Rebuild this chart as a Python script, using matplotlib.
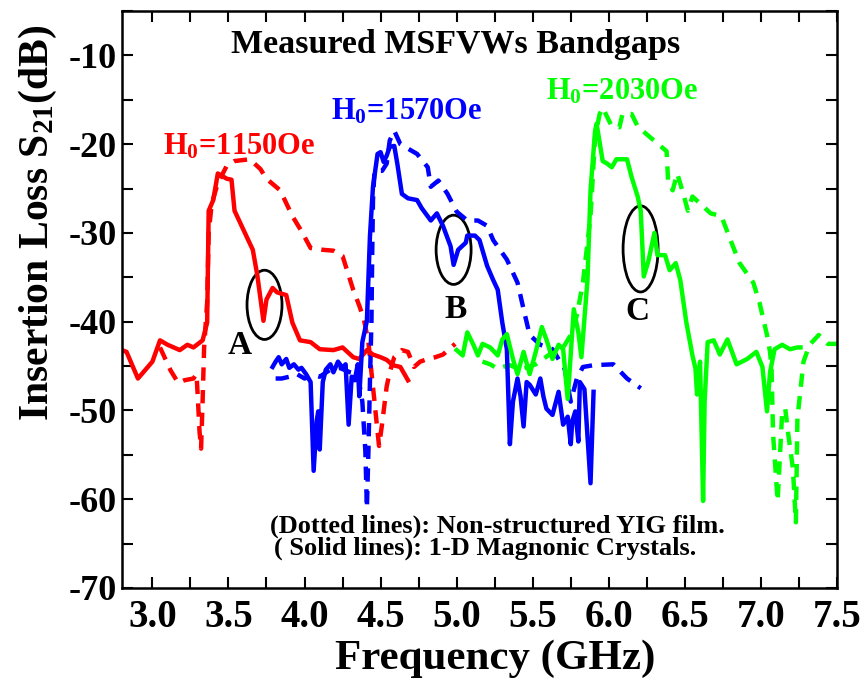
import numpy as np
import matplotlib
matplotlib.use("Agg")
import matplotlib.pyplot as plt
from matplotlib.patches import Ellipse
from matplotlib.ticker import MultipleLocator

plt.rcParams['font.family'] = ['Liberation Serif', 'DejaVu Serif']
plt.rcParams['font.weight'] = 'bold'
plt.rcParams['axes.labelweight'] = 'bold'
plt.rcParams['axes.unicode_minus'] = False
plt.rcParams['mathtext.fontset'] = 'custom'
plt.rcParams['mathtext.rm'] = 'Liberation Serif:bold'
plt.rcParams['mathtext.it'] = 'Liberation Serif:bold'
plt.rcParams['mathtext.bf'] = 'Liberation Serif:bold'

# H0 = 1150 Oe (red)
red_solid_f = [2.80, 2.83, 2.905, 3.00, 3.05, 3.10, 3.18, 3.23, 3.27, 3.33, 3.36, 3.37, 3.40, 3.43,
               3.49, 3.52, 3.54, 3.60, 3.66, 3.69, 3.73, 3.75, 3.79, 3.82, 3.88, 3.92, 3.97, 4.04,
               4.10, 4.19, 4.25, 4.32, 4.36, 4.41, 4.45, 4.50, 4.54, 4.58, 4.63, 4.68]
red_solid_s = [-43.2, -43.4, -46.4, -44.5, -42.1, -42.6, -43.2, -42.6, -42.9, -42.1, -40.1, -27.5, -26.3, -23.3,
               -23.9, -24.0, -27.5, -29.7, -31.9, -34.8, -39.9, -37.5, -36.2, -36.7, -37.0, -40.1, -42.1, -42.3,
               -43.1, -43.2, -42.9, -44.0, -44.2, -43.2, -43.7, -44.0, -44.3, -44.9, -45.1, -46.6]
red_dash_f = [3.05, 3.12, 3.17, 3.21, 3.27, 3.29, 3.30, 3.31, 3.32, 3.33, 3.34, 3.36, 3.37, 3.39, 3.43,
              3.49, 3.54, 3.64, 3.71, 3.75, 3.84, 3.92, 3.98, 4.04, 4.12, 4.19, 4.25, 4.32, 4.36, 4.39,
              4.42, 4.44, 4.46, 4.48, 4.49, 4.51, 4.54, 4.56, 4.59, 4.64, 4.68, 4.72, 4.76, 4.81, 4.86,
              4.91, 4.99]
red_dash_s = [-42.9, -45.5, -46.9, -46.6, -46.4, -45.9, -49.0, -52.4, -54.3, -49.0, -42.9, -37.8, -30.0, -26.7, -24.4,
              -22.4, -21.9, -21.7, -22.8, -23.9, -25.2, -28.1, -29.8, -31.7, -31.9, -32.0, -32.6, -36.4, -38.2, -39.7,
              -42.3, -45.7, -49.0, -52.4, -54.0, -51.5, -47.3, -45.7, -44.0, -43.2, -43.4, -45.1, -44.5, -44.2, -44.0,
              -43.7, -42.5]

# H0 = 1570 Oe (blue)
blue_solid_f = [3.79, 3.81, 3.83, 3.85, 3.88, 3.90, 3.93, 3.96, 3.98, 4.01, 4.04, 4.06, 4.08, 4.09, 4.10,
                4.12, 4.14, 4.17, 4.19, 4.22, 4.25, 4.27, 4.29, 4.31, 4.33, 4.35, 4.36, 4.38, 4.41, 4.43,
                4.45, 4.48, 4.50, 4.52, 4.54, 4.56, 4.59, 4.61, 4.64, 4.68, 4.74, 4.77, 4.83, 4.87, 4.91,
                4.96, 4.98, 5.01, 5.06, 5.07, 5.12, 5.15, 5.20, 5.24, 5.27, 5.30, 5.33, 5.35, 5.37, 5.40,
                5.42, 5.44, 5.46, 5.48, 5.52, 5.55, 5.57, 5.59, 5.63, 5.67, 5.70, 5.73, 5.75, 5.76, 5.78,
                5.80, 5.81, 5.84, 5.88, 5.90]
blue_solid_s = [-45.1, -44.5, -44.0, -44.8, -44.2, -45.2, -44.8, -45.4, -45.2, -45.9, -46.8, -56.8, -51.2, -50.1, -54.4,
                -46.8, -45.4, -44.8, -45.7, -44.5, -45.2, -44.8, -51.6, -46.2, -46.6, -44.8, -48.4, -42.3, -39.9, -30.4,
                -24.8, -21.1, -20.9, -22.0, -21.3, -20.3, -20.2, -22.2, -25.6, -26.1, -26.3, -27.2, -28.6, -27.8, -29.2,
                -31.5, -33.6, -31.9, -31.1, -30.3, -30.3, -30.8, -33.7, -35.3, -36.4, -40.1, -43.1, -53.8, -49.0, -46.4,
                -48.4, -51.8, -46.8, -47.1, -48.2, -46.4, -48.4, -49.8, -50.5, -47.9, -51.6, -50.7, -53.8, -51.2, -50.1,
                -53.5, -46.8, -47.6, -58.2, -47.9]
blue_dash_f = [3.81, 3.85, 3.90, 3.95, 4.00, 4.06, 4.10, 4.17, 4.23, 4.30, 4.35, 4.38, 4.40, 4.41, 4.42,
               4.43, 4.44, 4.445, 4.45, 4.46, 4.51, 4.54, 4.56, 4.59, 4.63, 4.74, 4.81, 4.83, 4.88, 4.94,
               5.00, 5.07, 5.14, 5.20, 5.24, 5.33, 5.40, 5.44, 5.48, 5.55, 5.63, 5.68, 5.71, 5.75, 5.79,
               5.83, 5.90, 6.03, 6.12, 6.21]
blue_dash_s = [-46.4, -46.4, -46.2, -45.9, -46.4, -46.0, -46.2, -45.4, -45.2, -45.7, -45.9, -49.0, -54.6, -61.0, -54.6,
               -46.8, -39.9, -32.3, -26.3, -23.0, -23.0, -22.2, -19.6, -18.5, -20.0, -21.1, -22.6, -24.8, -24.1, -25.6,
               -27.6, -28.6, -28.6, -29.2, -30.8, -33.0, -35.6, -38.6, -41.5, -42.6, -43.1, -44.5, -45.3, -49.0, -46.4,
               -45.1, -44.9, -44.8, -46.4, -47.5]

# H0 = 2030 Oe (green)
green_solid_f = [5.00, 5.04, 5.07, 5.11, 5.14, 5.17, 5.22, 5.27, 5.30, 5.33, 5.37, 5.40, 5.44, 5.48, 5.52,
                 5.56, 5.59, 5.63, 5.67, 5.70, 5.73, 5.77, 5.80, 5.82, 5.86, 5.88, 5.91, 5.92, 5.96, 5.99,
                 6.02, 6.05, 6.12, 6.15, 6.19, 6.21, 6.23, 6.26, 6.30, 6.32, 6.37, 6.40, 6.44, 6.47, 6.51,
                 6.55, 6.57, 6.58, 6.60, 6.62, 6.63, 6.65, 6.69, 6.73, 6.78, 6.81, 6.84, 6.91, 6.97, 7.01,
                 7.04, 7.06, 7.09, 7.14, 7.19, 7.24, 7.26]
green_solid_s = [-43.2, -43.8, -41.2, -42.6, -43.8, -42.5, -42.9, -43.8, -42.0, -41.4, -44.2, -45.9, -43.4, -45.9, -43.4,
                 -40.6, -42.0, -44.2, -42.6, -43.1, -48.7, -38.6, -41.2, -44.0, -35.3, -25.2, -18.5, -17.7, -21.9, -22.2,
                 -22.6, -21.7, -21.7, -23.7, -25.9, -27.5, -34.9, -33.2, -30.0, -32.5, -32.5, -34.2, -33.4, -35.3, -40.1,
                 -43.8, -45.3, -48.2, -44.5, -60.2, -49.0, -42.3, -42.1, -43.7, -42.0, -43.4, -44.8, -44.2, -43.4, -45.1,
                 -50.1, -45.7, -43.1, -42.6, -43.1, -42.9, -42.9]
green_dash_f = [5.17, 5.22, 5.27, 5.30, 5.35, 5.42, 5.52, 5.61, 5.69, 5.75, 5.79, 5.83, 5.88, 5.91, 5.94,
                5.96, 6.02, 6.07, 6.09, 6.15, 6.19, 6.25, 6.38, 6.39, 6.42, 6.45, 6.49, 6.52, 6.55, 6.62,
                6.67, 6.74, 6.80, 6.86, 6.95, 6.99, 7.04, 7.06, 7.07, 7.08, 7.11, 7.14, 7.16, 7.18, 7.21,
                7.23, 7.24, 7.28, 7.32, 7.38, 7.44, 7.50]
green_dash_s = [-44.5, -44.8, -45.3, -45.1, -44.9, -45.4, -44.8, -43.7, -43.2, -41.5, -39.3, -35.6, -28.1, -19.2, -16.6,
                -15.9, -18.0, -18.1, -16.6, -16.6, -18.0, -18.9, -20.8, -24.1, -25.2, -23.3, -25.6, -27.5, -25.9, -27.0,
                -27.8, -28.1, -30.8, -33.4, -35.6, -37.8, -41.5, -43.4, -45.3, -52.7, -60.2, -50.1, -49.8, -52.7, -56.5,
                -62.6, -50.9, -44.5, -42.6, -41.5, -42.5, -42.5]

# bandgap markers: (label, freq, level, width, height, label_freq, label_level)
gaps = [("A", 3.737, -38.1, 0.23, 7.8, 3.575, -42.7),
        ("B", 4.980, -31.9, 0.23, 7.8, 4.990, -38.6),
        ("C", 6.209, -31.8, 0.23, 9.7, 6.190, -38.9)]

fig = plt.figure(figsize=(8.65, 6.89), dpi=100)
ax = fig.add_axes([0.141, 0.1466, 0.8266, 0.8374])

lw = 3.2
dash = (0, (3.0, 2.1))
ax.plot(red_dash_f, red_dash_s, color='#ff0000', lw=lw, linestyle=dash)
ax.plot(blue_dash_f, blue_dash_s, color='#0000ff', lw=lw, linestyle=dash)
ax.plot(green_dash_f, green_dash_s, color='#00ff00', lw=lw, linestyle=dash)
ax.plot(red_solid_f, red_solid_s, color='#ff0000', lw=lw)
ax.plot(blue_solid_f, blue_solid_s, color='#0000ff', lw=lw)
ax.plot(green_solid_f, green_solid_s, color='#00ff00', lw=lw)

for name, fx, fy, w, h, lx, ly in gaps:
    ax.add_patch(Ellipse((fx, fy), w, h, fill=False, edgecolor='black', lw=2))
    ax.text(lx, ly, name, fontsize=24, ha='center', va='center', color='black')

ax.text(3.57, -20.3, r'H$_0$=1150Oe', fontsize=22, color='#ff0000', ha='center', va='center')
ax.text(4.67, -16.4, r'H$_0$=1570Oe', fontsize=22, color='#0000ff', ha='center', va='center')
ax.text(6.09, -14.1, r'H$_0$=2030Oe', fontsize=22, color='#00ff00', ha='center', va='center')
ax.text(4.99, -8.8, 'Measured MSFVWs Bandgaps', fontsize=24.5, ha='center', va='center')
ax.text(5.27, -63.1, '(Dotted lines): Non-structured YIG film.', fontsize=19, ha='center', va='center')
ax.text(5.19, -65.5, '( Solid lines): 1-D Magnonic Crystals.', fontsize=19, ha='center', va='center')

ax.set_xlim(2.8, 7.5)
ax.set_ylim(-70, -5)
ax.xaxis.set_minor_locator(MultipleLocator(0.25))
ax.yaxis.set_major_locator(MultipleLocator(10))
ax.yaxis.set_minor_locator(MultipleLocator(5))
ax.set_xticks([3.0, 3.5, 4.0, 4.5, 5.0, 5.5, 6.0, 6.5, 7.0, 7.5])
ax.set_xticklabels(['3.0', '3.5', '4.0', '4.5', '5.0', '5.5', '6.0', '6.5', '7.0', '7.5'])
ax.tick_params(which='both', direction='in', top=True, right=True, width=1.5, length=8)
ax.tick_params(axis='y', labelsize=26, pad=4)
ax.tick_params(axis='x', labelsize=28, pad=8)
for s in ax.spines.values():
    s.set_linewidth(1.8)

ax.set_xlabel('Frequency (GHz)', fontsize=31)
ax.set_ylabel(r'Insertion Loss S$_{21}$(dB)', fontsize=30)
ax.xaxis.set_label_coords(0.522, -0.09)
ax.yaxis.set_label_coords(-0.088, 0.633)

fig.savefig('out.png', dpi=100)
